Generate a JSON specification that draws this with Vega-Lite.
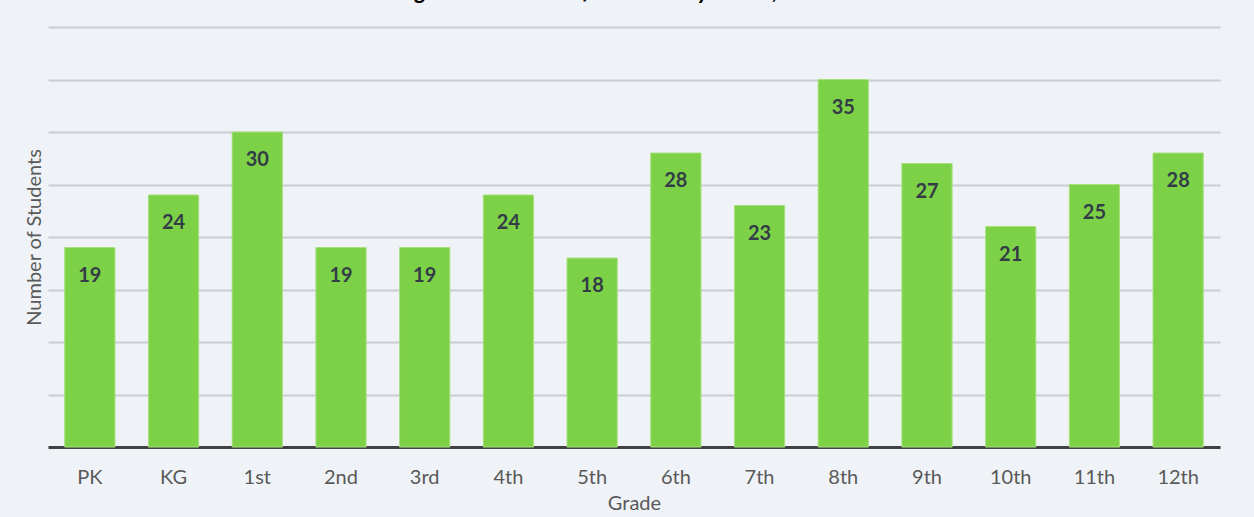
{
  "$schema": "https://vega.github.io/schema/vega-lite/v6.json",
  "width": 1172,
  "height": 420,
  "autosize": "none",
  "padding": {"left": 48, "top": 27, "right": 34, "bottom": 70},
  "background": "#eff3f7",
  "title": {
    "text": "Figure 1: Number of Students by Grade, 2023-24",
    "font": "Lato",
    "fontSize": 23,
    "fontWeight": "bold",
    "fontStyle": "italic",
    "color": "#000000",
    "anchor": "middle",
    "baseline": "alphabetic",
    "offset": 0,
    "dy": -5
  },
  "data": {
    "values": [
      {"grade": "PK", "students": 19},
      {"grade": "KG", "students": 24},
      {"grade": "1st", "students": 30},
      {"grade": "2nd", "students": 19},
      {"grade": "3rd", "students": 19},
      {"grade": "4th", "students": 24},
      {"grade": "5th", "students": 18},
      {"grade": "6th", "students": 28},
      {"grade": "7th", "students": 23},
      {"grade": "8th", "students": 35},
      {"grade": "9th", "students": 27},
      {"grade": "10th", "students": 21},
      {"grade": "11th", "students": 25},
      {"grade": "12th", "students": 28}
    ]
  },
  "encoding": {
    "x": {
      "field": "grade",
      "type": "nominal",
      "sort": null,
      "scale": {"paddingInner": 0.4, "paddingOuter": 0.2},
      "axis": {
        "title": "Grade",
        "titleFont": "Lato",
        "titleFontSize": 20,
        "titleFontWeight": "normal",
        "titleColor": "#595959",
        "titlePadding": 6,
        "labelFont": "Lato",
        "labelFontSize": 20,
        "labelColor": "#595959",
        "labelPadding": 20,
        "labelAngle": 0,
        "ticks": false,
        "domainColor": "#404040",
        "domainWidth": 3
      }
    },
    "y": {
      "field": "students",
      "type": "quantitative",
      "scale": {"domain": [0, 40]},
      "axis": {
        "title": "Number of Students",
        "titleFont": "Lato",
        "titleFontSize": 20,
        "titleFontWeight": "normal",
        "titleColor": "#595959",
        "titlePadding": 4,
        "labels": false,
        "ticks": false,
        "domain": false,
        "values": [0, 5, 10, 15, 20, 25, 30, 35, 40],
        "gridColor": "#c9ccd1",
        "gridWidth": 2
      }
    }
  },
  "layer": [
    {
      "mark": {"type": "bar", "color": "#7dd147", "stroke": "#a8e07f", "strokeWidth": 1}
    },
    {
      "mark": {
        "type": "text",
        "baseline": "top",
        "dy": 18,
        "font": "Lato",
        "fontSize": 20,
        "fontWeight": "bold",
        "color": "#333c47"
      },
      "encoding": {"text": {"field": "students", "type": "quantitative"}}
    }
  ],
  "config": {"view": {"stroke": null}}
}
